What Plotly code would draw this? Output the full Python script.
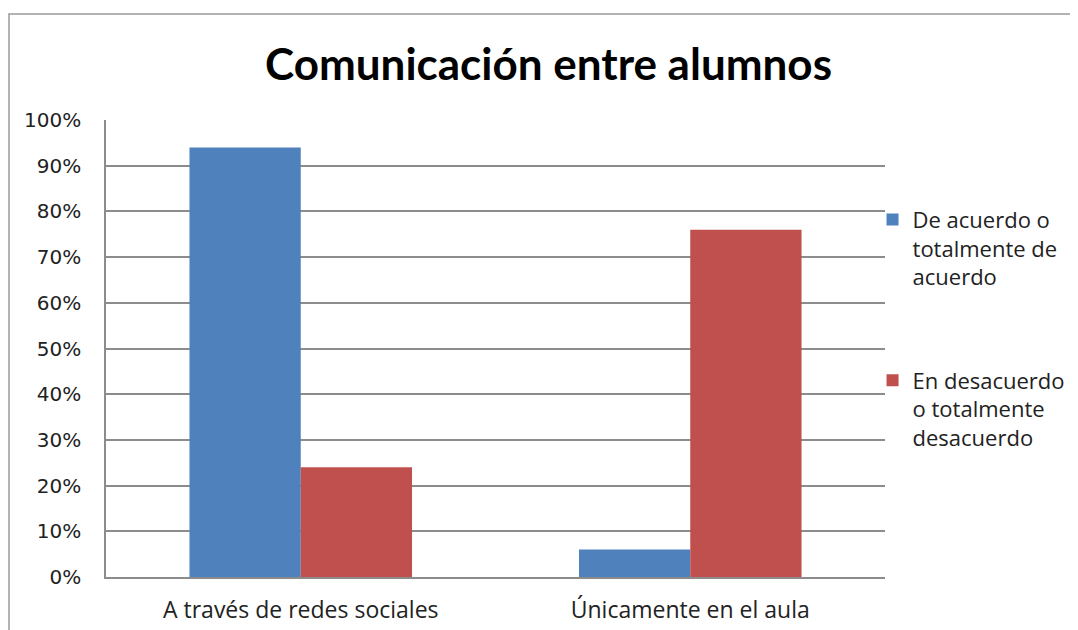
import plotly.graph_objects as go

categories = ['A través de redes sociales', 'Únicamente en el aula']
series_names = ['De acuerdo o<br>totalmente de<br>acuerdo',
                'En desacuerdo<br>o totalmente<br>desacuerdo']
acuerdo = [0.94, 0.06]
desacuerdo = [0.24, 0.76]
y_ticks = [0, 0.1, 0.2, 0.3, 0.4, 0.5, 0.6, 0.7, 0.8, 0.9, 1.0]

fig = go.Figure()
fig.add_trace(go.Bar(x=categories, y=acuerdo, name=series_names[0],
                     marker_color='#4F81BD', legendgroup='a'))
fig.add_trace(go.Bar(x=categories, y=desacuerdo, name=series_names[1],
                     marker_color='#C0504D', legendgroup='b'))

fig.update_traces(marker_line_width=0)

# page has an 8px body margin, so the layout is nudged up/left by 8px;
# the figure is a bit wider than the window so the legend doesn't squeeze the plot
fig.update_layout(
    width=1090, height=630,
    margin=dict(l=98, r=213, t=112, b=61),
    paper_bgcolor='white', plot_bgcolor='white',
    barmode='group', bargap=0.4286, bargroupgap=0,
    title=dict(text='<b>Comunicación entre alumnos</b>', x=540.5 / 1090, xanchor='center',
               y=1 - 57 / 630, yanchor='middle',
               font=dict(family='Lato', size=44, color='black')),
    font=dict(family='Open Sans', size=22, color='#222'),
    legend=dict(x=0.984, xanchor='left', y=0.828, yanchor='top',
                traceorder='grouped', tracegroupgap=72, valign='top',
                font=dict(family='Open Sans', size=22, color='#222'),
                itemwidth=30, bgcolor='rgba(0,0,0,0)'),
    showlegend=True,
)

fig.update_yaxes(range=[0, 1], tickvals=y_ticks, tickformat='.0%',
                 showgrid=True, gridcolor='#8C8C8C', gridwidth=1.5,
                 showline=True, linecolor='#8C8C8C', linewidth=1.5,
                 zeroline=False, ticks='', ticklabelstandoff=19,
                 tickfont=dict(family='DejaVu Sans', size=20, color='#222'))
fig.update_xaxes(showline=True, linecolor='#8C8C8C', linewidth=1.5,
                 ticks='', ticklabelstandoff=12,
                 tickfont=dict(family='Open Sans', size=23, color='#222'))

# chart-area border (runs past the right and bottom edges in the reference)
fig.add_shape(type='rect', xref='paper', yref='paper',
              x0=-97 / 779, x1=1.6, y0=-0.5, y1=1 + 106 / 457,
              line=dict(color='#9A9A9A', width=1.5), layer='below')

fig.write_html('out.html')
